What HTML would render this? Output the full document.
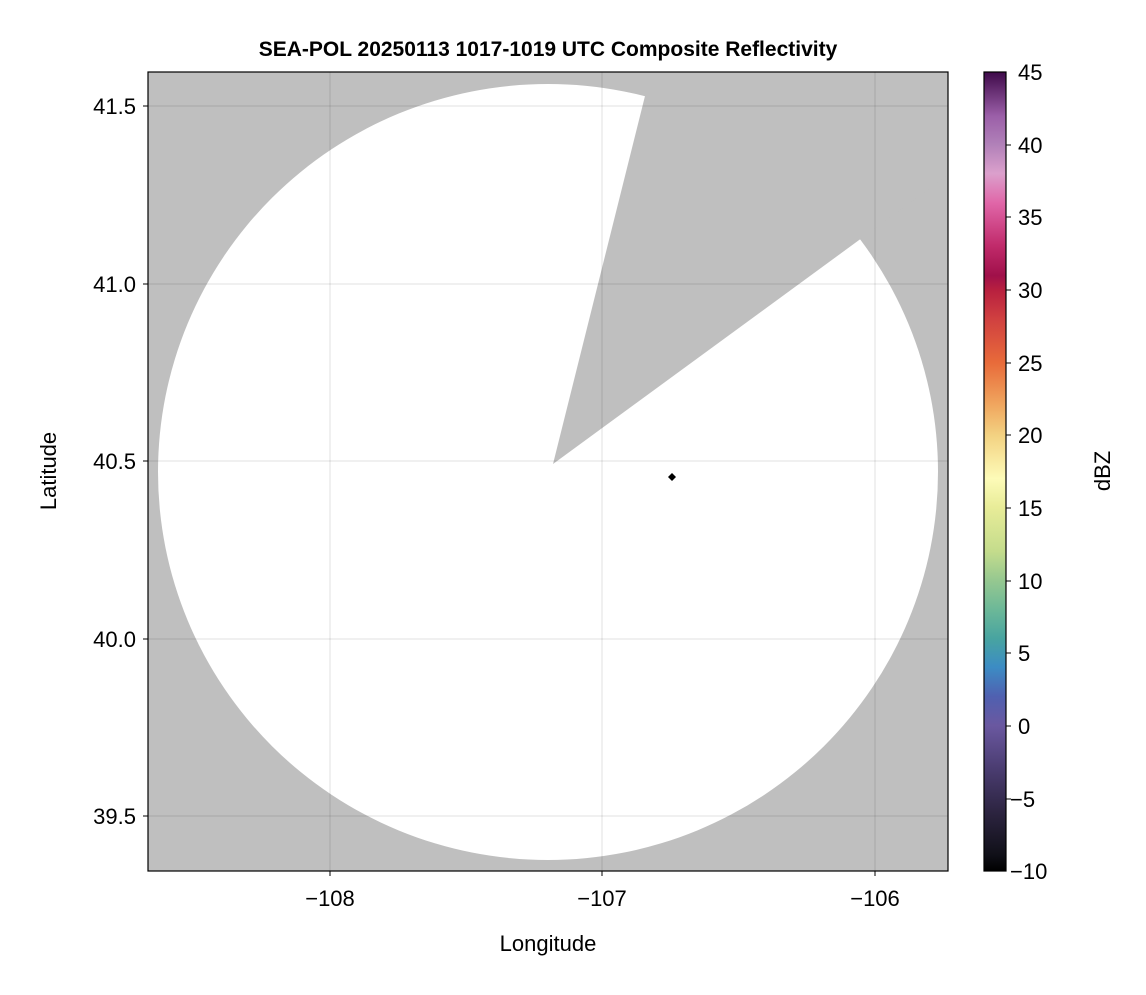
<!DOCTYPE html>
<html><head><style>
body{margin:0;background:#fff;}
svg text{font-family:"Liberation Sans",sans-serif;}
</style></head><body>
<svg width="1146" height="990" viewBox="0 0 1146 990" xmlns="http://www.w3.org/2000/svg">
<defs>
<linearGradient id="cb" x1="0" y1="0" x2="0" y2="1">
<stop offset="0%" stop-color="#3f0a4a"/>
<stop offset="5.5%" stop-color="#9b5fa8"/>
<stop offset="9%" stop-color="#b080b8"/>
<stop offset="12.7%" stop-color="#dba0cc"/>
<stop offset="16.4%" stop-color="#e066a8"/>
<stop offset="21.8%" stop-color="#c02a6a"/>
<stop offset="25.5%" stop-color="#a0104a"/>
<stop offset="27.3%" stop-color="#b8203f"/>
<stop offset="30.9%" stop-color="#d04040"/>
<stop offset="36.4%" stop-color="#e86b3a"/>
<stop offset="41.8%" stop-color="#f0a860"/>
<stop offset="45.5%" stop-color="#f3d282"/>
<stop offset="50.9%" stop-color="#fdfbb8"/>
<stop offset="54.5%" stop-color="#e8ec98"/>
<stop offset="60%" stop-color="#c4dc8c"/>
<stop offset="63.6%" stop-color="#96c890"/>
<stop offset="67.3%" stop-color="#6cb898"/>
<stop offset="70.9%" stop-color="#48a4a0"/>
<stop offset="74.5%" stop-color="#3c8cc4"/>
<stop offset="78.2%" stop-color="#5060b0"/>
<stop offset="81.8%" stop-color="#6a58a0"/>
<stop offset="87.3%" stop-color="#4a3c70"/>
<stop offset="92.7%" stop-color="#2c2440"/>
<stop offset="98%" stop-color="#101018"/>
<stop offset="100%" stop-color="#000"/>
</linearGradient>
<clipPath id="pa"><rect x="148" y="72" width="800" height="799"/></clipPath>
</defs>
<rect x="148" y="72" width="800" height="799" fill="#bfbfbf"/>
<g clip-path="url(#pa)">
<ellipse cx="548" cy="472" rx="390" ry="388" fill="#fff"/>
<polygon points="553,464 651,72 948,72 948,175" fill="#bfbfbf"/>
<g stroke="#000" stroke-opacity="0.12" stroke-width="1">
<line x1="330" y1="72" x2="330" y2="871"/>
<line x1="602" y1="72" x2="602" y2="871"/>
<line x1="875" y1="72" x2="875" y2="871"/>
<line x1="148" y1="106" x2="948" y2="106"/>
<line x1="148" y1="284" x2="948" y2="284"/>
<line x1="148" y1="461" x2="948" y2="461"/>
<line x1="148" y1="639" x2="948" y2="639"/>
<line x1="148" y1="816" x2="948" y2="816"/>
</g>
<polygon points="672,473 676,477 672,481 668,477" fill="#000"/>
</g>
<rect x="148" y="72" width="800" height="799" fill="none" stroke="#000" stroke-width="1.2"/>
<g stroke="#000" stroke-width="1">
<line x1="330" y1="871" x2="330" y2="876"/><line x1="602" y1="871" x2="602" y2="876"/><line x1="875" y1="871" x2="875" y2="876"/>
<line x1="143" y1="106" x2="148" y2="106"/><line x1="143" y1="284" x2="148" y2="284"/><line x1="143" y1="461" x2="148" y2="461"/><line x1="143" y1="639" x2="148" y2="639"/><line x1="143" y1="816" x2="148" y2="816"/>
</g>
<g font-size="22" fill="#000">
<text x="330" y="906" text-anchor="middle">−108</text>
<text x="602" y="906" text-anchor="middle">−107</text>
<text x="875" y="906" text-anchor="middle">−106</text>
<text x="136" y="114" text-anchor="end">41.5</text>
<text x="136" y="292" text-anchor="end">41.0</text>
<text x="136" y="469" text-anchor="end">40.5</text>
<text x="136" y="647" text-anchor="end">40.0</text>
<text x="136" y="824" text-anchor="end">39.5</text>
<text x="548" y="951" text-anchor="middle">Longitude</text>
<text transform="translate(56,471) rotate(-90)" text-anchor="middle">Latitude</text>
</g>
<text x="548" y="56" text-anchor="middle" font-size="21" font-weight="bold">SEA-POL 20250113 1017-1019 UTC Composite Reflectivity</text>
<rect x="984" y="72" width="22" height="799" fill="url(#cb)" stroke="#000" stroke-width="1.2"/>
<g font-size="22" fill="#000" stroke="none">
<text x="1018" y="80">45</text><text x="1018" y="153">40</text><text x="1018" y="225">35</text><text x="1018" y="298">30</text><text x="1018" y="371">25</text><text x="1018" y="443">20</text><text x="1018" y="516">15</text><text x="1018" y="589">10</text><text x="1018" y="661">5</text><text x="1018" y="734">0</text><text x="1010" y="807">−5</text><text x="1010" y="879">−10</text>
</g>
<g stroke="#000"><line x1="1006" y1="145" x2="1011" y2="145"/><line x1="1006" y1="217" x2="1011" y2="217"/><line x1="1006" y1="290" x2="1011" y2="290"/><line x1="1006" y1="363" x2="1011" y2="363"/><line x1="1006" y1="435" x2="1011" y2="435"/><line x1="1006" y1="508" x2="1011" y2="508"/><line x1="1006" y1="581" x2="1011" y2="581"/><line x1="1006" y1="653" x2="1011" y2="653"/><line x1="1006" y1="726" x2="1011" y2="726"/><line x1="1006" y1="799" x2="1011" y2="799"/></g>
<text transform="translate(1110,471) rotate(-90)" text-anchor="middle" font-size="22">dBZ</text>
</svg>
</body></html>
